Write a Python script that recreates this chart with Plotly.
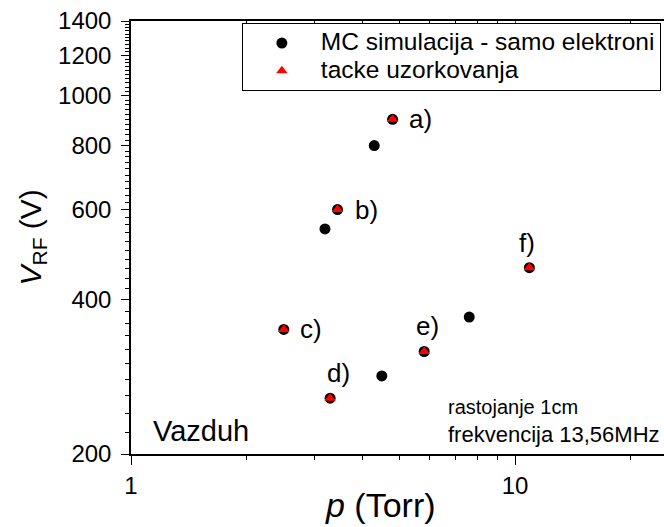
import plotly.graph_objects as go
import numpy as np

# MC simulation points (pressure in Torr, V_RF in V)
mc_p = [4.8, 4.3, 3.45, 3.2, 2.5, 3.3, 4.5, 5.8, 7.6, 10.9]
mc_v = [900, 800, 600, 550, 350, 257, 284, 317, 370, 462]

# sampling points
s_p = [4.8, 3.45, 2.5, 3.3, 5.8, 10.9]
s_v = [900, 600, 350, 257, 317, 462]
s_lab = ["a)", "b)", "c)", "d)", "e)", "f)"]

y_ticks = [200, 400, 600, 800, 1000, 1200, 1400]
x_ticks = [1, 10]
x_tick_text = ["1", "10"]

FONT = "Liberation Sans, Arial, sans-serif"

fig = go.Figure()
fig.add_trace(go.Scatter(x=mc_p, y=mc_v, mode="markers",
                         name='<span style="font-size:24.5px">MC simulacija - samo elektroni</span>',
                         marker=dict(symbol="circle", size=11, color="black")))
fig.add_trace(go.Scatter(x=s_p, y=s_v, mode="markers",
                         name='<span style="font-size:24.5px">tacke uzorkovanja</span>',
                         marker=dict(symbol="triangle-up", size=10, color="red")))

# label offsets (pixels) per point
shifts = {"a)": (14, 0, "left"), "b)": (15, 0, "left"), "c)": (14, 0, "left"),
          "d)": (8, 25, "center"), "e)": (3, 26, "center"), "f)": (-2, 25, "center")}
for px, vy, lab in zip(s_p, s_v, s_lab):
    dx, dy, anc = shifts[lab]
    fig.add_annotation(x=np.log10(px), y=np.log10(vy), text=lab, showarrow=False,
                       xanchor=anc, yanchor="middle", xshift=dx, yshift=dy,
                       font=dict(size=26, color="black", family=FONT))

fig.add_annotation(xref="paper", yref="paper", x=0.038, y=0.053, text="Vazduh",
                   showarrow=False, xanchor="left", yanchor="middle",
                   font=dict(size=29, color="black", family=FONT))
fig.add_annotation(xref="paper", yref="paper", x=0.591, y=0.108, text="rastojanje 1cm",
                   showarrow=False, xanchor="left", yanchor="middle",
                   font=dict(size=20, color="black", family=FONT))
fig.add_annotation(xref="paper", yref="paper", x=0.591, y=0.046, text="frekvencija 13,56MHz",
                   showarrow=False, xanchor="left", yanchor="middle",
                   font=dict(size=22, color="black", family=FONT))
# axis titles
fig.add_annotation(xref="paper", yref="paper", x=(380 - 131) / 533, y=(454 - 505) / 433,
                   text="<i>p</i> (Torr)", showarrow=False, xanchor="center", yanchor="middle",
                   font=dict(size=34, color="black", family=FONT))
fig.add_annotation(xref="paper", yref="paper", x=(32 - 131) / 533, y=0.5,
                   text="<i>V</i><sub>RF</sub> (V)", showarrow=False, textangle=-90,
                   xanchor="center", yanchor="middle",
                   font=dict(size=30, color="black", family=FONT))

x_minor = [2, 3, 4, 5, 6, 7, 8, 9, 20]
y_minor = [v for v in range(220, 1400, 20) if v % 200 != 0]
x_max = (664 - 131) / 384

fig.update_layout(
    width=664, height=527,
    margin=dict(l=131, r=0, t=21, b=73, autoexpand=False),
    paper_bgcolor="white", plot_bgcolor="white",
    font=dict(family=FONT, color="black"),
    xaxis=dict(type="log", range=[0, x_max],
               tickvals=x_ticks, ticktext=x_tick_text, ticks="outside", ticklen=9,
               tickcolor="black", showline=True, linecolor="black", linewidth=1.5,
               showgrid=False, zeroline=False, tickfont=dict(size=24),
               minor=dict(tickvals=x_minor, ticks="outside", ticklen=4, tickcolor="black", showgrid=False)),
    xaxis2=dict(type="log", overlaying="x", matches="x", side="top", anchor="y",
                range=[0, x_max], tickvals=x_ticks, ticks="inside", ticklen=8,
                showticklabels=False, showline=True, linecolor="black", linewidth=1.5,
                showgrid=False, zeroline=False,
                minor=dict(tickvals=x_minor, ticks="inside", ticklen=4, tickcolor="black", showgrid=False)),
    yaxis=dict(type="log", range=[np.log10(200), np.log10(1400)],
               tickvals=y_ticks, ticks="outside", ticklen=8, tickcolor="black",
               showline=True, linecolor="black", linewidth=1.5, showgrid=False, zeroline=False,
               tickfont=dict(size=24), ticklabelstandoff=5,
               minor=dict(tickvals=y_minor, ticks="outside", ticklen=4, tickcolor="black", showgrid=False)),
    legend=dict(x=0.208, y=0.995, xanchor="left", yanchor="top", bgcolor="white",
                bordercolor="black", borderwidth=1, font=dict(size=19, color="black"),
                itemwidth=68, tracegroupgap=0),
    showlegend=True,
)
fig.add_trace(go.Scatter(x=[1, 10], y=[200, 200], xaxis="x2", mode="markers",
                         marker=dict(opacity=0), showlegend=False, hoverinfo="skip"))

fig.write_html("out.html", config={"displayModeBar": False},
               post_script="document.body.style.margin='0px';")
